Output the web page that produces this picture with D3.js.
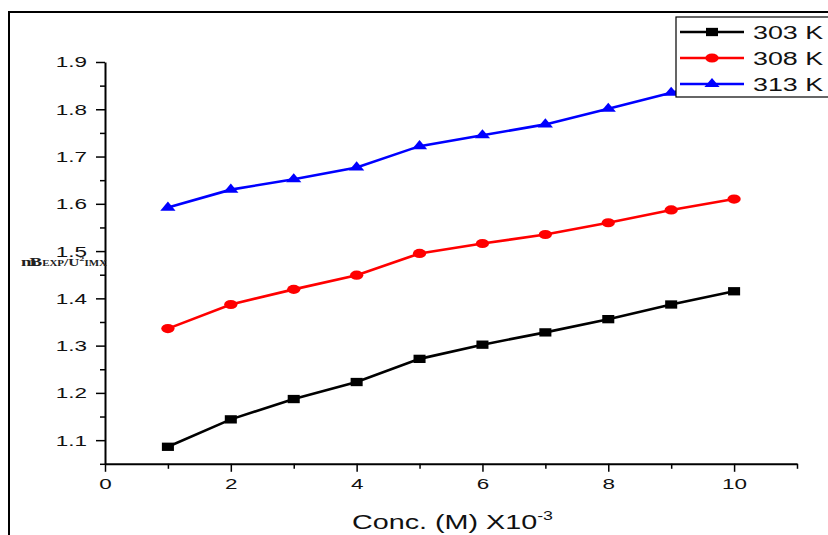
<!DOCTYPE html>
<meta charset="utf-8">
<head>
<script src="https://d3js.org/d3.v7.min.js"></script>
<style>
  body { margin: 0; background: #fff; }
  svg { font-family: "Liberation Sans", Arial, sans-serif; }
</style>
</head>
<body>
<svg id="chart" width="828" height="535"></svg>
<script>
// data
var conc = [1, 2, 3, 4, 5, 6, 7, 8, 9, 10];
var k303 = [1.086, 1.144, 1.187, 1.223, 1.272, 1.302, 1.328, 1.356, 1.387, 1.415];
var k308 = [1.336, 1.387, 1.419, 1.449, 1.495, 1.516, 1.535, 1.560, 1.587, 1.610];
var k313 = [1.592, 1.630, 1.652, 1.677, 1.722, 1.745, 1.768, 1.801, 1.835, 1.865];
var seriesNames = ["303 K", "308 K", "313 K"];
var xTicks = [0, 2, 4, 6, 8, 10];
var yTicks = [1.1, 1.2, 1.3, 1.4, 1.5, 1.6, 1.7, 1.8, 1.9];

// the original figure is stretched sideways, so text and markers get this x-scale
var sx = 1.45;

var series = [
  { name: seriesNames[0], values: k303, color: "#000000", shape: d3.symbolSquare, size: 69 },
  { name: seriesNames[1], values: k308, color: "#ff0000", shape: d3.symbolCircle, size: 66 },
  { name: seriesNames[2], values: k313, color: "#0000ff", shape: d3.symbolTriangle, size: 48 }
];

var svg = d3.select("#chart");

// outer frame (left + top only visible)
svg.append("path")
  .attr("d", "M9,535 V12 H828")
  .attr("fill", "none")
  .attr("stroke", "#000")
  .attr("stroke-width", 2);

var x = d3.scaleLinear().domain([0, 11]).range([105, 797]);
var y = d3.scaleLinear().domain([1.05, 1.9]).range([463.8, 62]);

// y axis
svg.append("g").attr("class", "yax").attr("transform", "translate(105,0)")
  .call(d3.axisLeft(y).tickValues(yTicks).tickFormat(d3.format(".1f")).tickSize(9).tickSizeOuter(0));
svg.append("g").attr("transform", "translate(105,0)")
  .call(d3.axisLeft(y).tickValues(d3.range(1.05, 1.9, 0.1)).tickFormat("").tickSize(5).tickSizeOuter(0))
  .select(".domain").remove();

// x axis
svg.append("g").attr("class", "xax").attr("transform", "translate(0,463.8)")
  .call(d3.axisBottom(x).tickValues(xTicks).tickSize(8).tickSizeOuter(0));
svg.append("g").attr("transform", "translate(0,463.8)")
  .call(d3.axisBottom(x).tickValues([1, 3, 5, 7, 9, 11]).tickFormat("").tickSize(5).tickSizeOuter(0))
  .select(".domain").remove();

svg.selectAll(".domain").attr("stroke-width", 2);
svg.selectAll(".tick line").attr("stroke-width", 1.5);
svg.selectAll(".tick text").attr("font-size", 15.5).attr("fill", "#111")
  .attr("font-family", "'Liberation Sans', Arial, sans-serif");
svg.selectAll(".yax .tick text")
  .attr("x", -18 / sx)
  .attr("transform", "scale(" + sx + ",1)");
svg.selectAll(".xax .tick text")
  .attr("y", 14)
  .attr("transform", "scale(" + sx + ",1)")
  .attr("x", function() { return 0; });
// keep x tick labels centered on their tick after the scale
svg.selectAll(".xax .tick").each(function() {
  d3.select(this).select("text").attr("transform", "scale(" + sx + ",1)");
});

// lines + markers
var line = d3.line().x(function(d, i) { return x(conc[i]); }).y(function(d) { return y(d); });
series.forEach(function(s) {
  svg.append("path")
    .datum(s.values)
    .attr("d", line)
    .attr("fill", "none")
    .attr("stroke", s.color)
    .attr("stroke-width", 2.6);
  svg.append("g").selectAll("path")
    .data(s.values)
    .enter().append("path")
    .attr("d", d3.symbol().type(s.shape).size(s.size))
    .attr("transform", function(d, i) {
      return "translate(" + x(conc[i]) + "," + y(d) + ") scale(" + sx + ",1)";
    })
    .attr("fill", s.color);
});

// axis titles
var xt = svg.append("text")
  .attr("x", 352).attr("y", 529)
  .attr("font-size", 21).attr("fill", "#111")
  .attr("textLength", 201).attr("lengthAdjust", "spacingAndGlyphs")
  .text("Conc. (M) X10");
xt.append("tspan").attr("font-size", 13).attr("dy", -9).text("-3");

var yt = svg.append("text")
  .attr("x", 21).attr("y", 266)
  .attr("font-family", "'Liberation Serif', 'Times New Roman', serif")
  .attr("font-weight", "bold").attr("fill", "#222")
  .attr("textLength", 86).attr("lengthAdjust", "spacingAndGlyphs");
yt.append("tspan").attr("font-size", 13).text("m");
yt.append("tspan").attr("font-size", 13).attr("dx", -5).text("B");
yt.append("tspan").attr("font-size", 7.5).text("EXP");
yt.append("tspan").attr("font-size", 10.5).text("/U");
yt.append("tspan").attr("font-size", 7).attr("dy", -5).text("2");
yt.append("tspan").attr("font-size", 7.5).attr("dy", 5).text("IMX");

// legend
var lg = svg.append("g");
lg.append("rect")
  .attr("x", 676).attr("y", 17).attr("width", 160).attr("height", 80)
  .attr("fill", "#fff").attr("stroke", "#000").attr("stroke-width", 1.2);
series.forEach(function(s, i) {
  var cy = 32 + i * 26;
  lg.append("line").attr("x1", 680).attr("x2", 744).attr("y1", cy).attr("y2", cy)
    .attr("stroke", s.color).attr("stroke-width", 2.6);
  lg.append("path").attr("d", d3.symbol().type(s.shape).size(s.size))
    .attr("transform", "translate(712," + cy + ") scale(" + sx + ",1)").attr("fill", s.color);
  lg.append("text")
    .attr("transform", "translate(753," + (cy + 6.5) + ") scale(" + sx + ",1)")
    .attr("font-size", 18.5).attr("fill", "#111").text(s.name);
});
</script>
</body>
